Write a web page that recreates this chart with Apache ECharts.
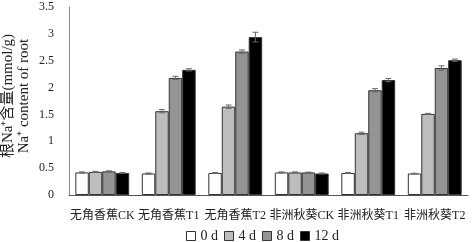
<!DOCTYPE html>
<html><head><meta charset="utf-8">
<script src="https://cdn.jsdelivr.net/npm/echarts@6/dist/echarts.min.js"></script>
<style>html,body{margin:0;padding:0;background:#fff}#c{width:472px;height:242px}</style>
</head><body><div id="c"></div>
<script>
var categories = ['无角香蕉CK','无角香蕉T1','无角香蕉T2','非洲秋葵CK','非洲秋葵T1','非洲秋葵T2'];
var seriesNames = ['0 d','4 d','8 d','12 d'];
var d0 = [0.42, 0.40, 0.41, 0.42, 0.41, 0.40];
var d4 = [0.43, 1.56, 1.645, 0.42, 1.15, 1.51];
var d8 = [0.44, 2.18, 2.67, 0.42, 1.95, 2.365];
var d12 = [0.41, 2.33, 2.94, 0.40, 2.14, 2.51];
var e0 = [0.01, 0.01, 0.01, 0.01, 0.01, 0.005];
var e4 = [0.01, 0.03, 0.03, 0.01, 0.02, 0.01];
var e8 = [0.01, 0.03, 0.03, 0.005, 0.03, 0.04];
var e12 = [0.01, 0.02, 0.09, 0.01, 0.03, 0.02];
var yTicks = [0, 0.5, 1, 1.5, 2, 2.5, 3, 3.5];
var yNameLines = ['根Na⁺含量(mmol/g)', 'Na⁺ content of root'];

var values = [d0, d4, d8, d12];
var errs = [e0, e4, e8, e12];
var colors = ['#ffffff', '#bdbdbd', '#949494', '#000000'];
var gapPct = 0.19;
var serif = '"Liberation Serif","Noto Sans CJK SC",serif';

var series = [];
values.forEach(function (v, i) {
  series.push({
    name: seriesNames[i], type: 'bar', data: v,
    barGap: '0%', barCategoryGap: (gapPct * 100) + '%',
    itemStyle: { color: colors[i], borderColor: '#333', borderWidth: 1 },
    silent: true, animation: false
  });
});
values.forEach(function (v, i) {
  series.push({
    type: 'custom', silent: true, animation: false, z: 5,
    data: v.map(function (val, k) { return [k, val, errs[i][k]]; }),
    renderItem: function (params, api) {
      var band = api.size([1, 0])[0];
      var bw = band * (1 - gapPct) / 4;
      var off = (i - 1.5) * bw;
      var c = api.coord([api.value(0), api.value(1)]);
      var hi = api.coord([api.value(0), api.value(1) + api.value(2)]);
      var lo = api.coord([api.value(0), api.value(1) - api.value(2)]);
      var x = c[0] + off;
      var cap = 3;
      var st = { stroke: '#666', lineWidth: 1 };
      return { type: 'group', children: [
        { type: 'line', shape: { x1: x, y1: hi[1], x2: x, y2: lo[1] }, style: st },
        { type: 'line', shape: { x1: x - cap, y1: hi[1], x2: x + cap, y2: hi[1] }, style: st },
        { type: 'line', shape: { x1: x - cap, y1: lo[1], x2: x + cap, y2: lo[1] }, style: st }
      ]};
    }
  });
});

var chart = echarts.init(document.getElementById('c'), null, { renderer: 'canvas' });
chart.setOption({
  animation: false,
  backgroundColor: '#fff',
  grid: { left: 69, right: 4, top: 7, bottom: 47, containLabel: false, outerBoundsMode: 'none' },
  graphic: [
    { type: 'text', x: 8, y: 96, rotation: Math.PI / 2, silent: true,
      style: { text: yNameLines[0], font: '15px ' + serif, fill: '#222', textAlign: 'center', textVerticalAlign: 'middle' } },
    { type: 'text', x: 24, y: 96, rotation: Math.PI / 2, silent: true,
      style: { text: yNameLines[1], font: '15px ' + serif, fill: '#222', textAlign: 'center', textVerticalAlign: 'middle' } }
  ],
  legend: {
    data: seriesNames, top: 224, left: 181,
    icon: 'rect', itemWidth: 9, itemHeight: 9, itemGap: 6,
    textStyle: { fontFamily: serif, fontSize: 14, color: '#222' },
    itemStyle: { borderColor: '#333', borderWidth: 1 }
  },
  xAxis: {
    type: 'category', data: categories,
    axisLine: { lineStyle: { color: '#555', width: 1 } },
    axisTick: { show: false },
    axisLabel: { fontFamily: serif, fontSize: 12, color: '#222', margin: 15, interval: 0 }
  },
  yAxis: {
    type: 'value', min: 0, max: 3.5, interval: 0.5,
    axisLine: { show: true, lineStyle: { color: '#888', width: 1 } },
    axisTick: { show: false },
    splitLine: { show: false },
    axisLabel: {
      fontFamily: serif, fontSize: 12, color: '#222', margin: 15,
      formatter: function (v) { return yTicks.indexOf(v) >= 0 ? String(v) : ''; }
    }
  },
  series: series
});
</script></body></html>
